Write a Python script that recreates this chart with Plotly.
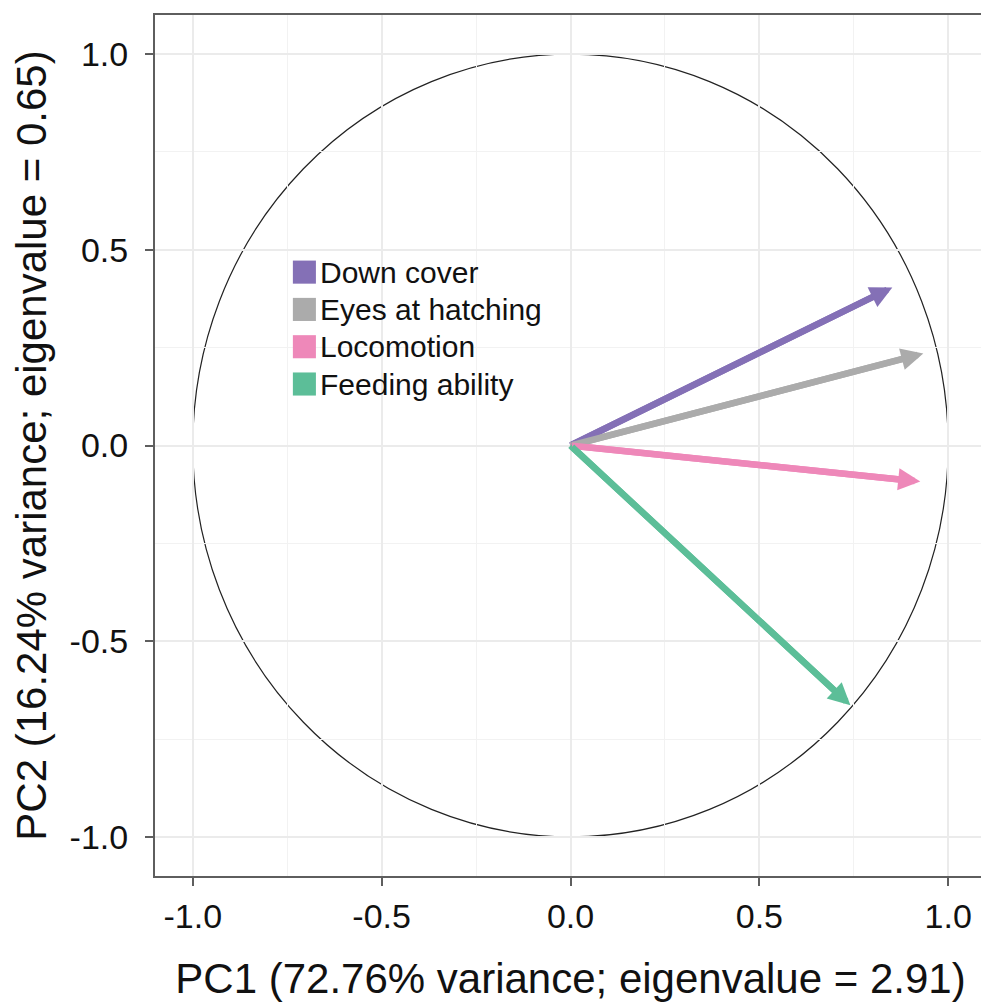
import plotly.graph_objects as go

variables = ["Down cover", "Eyes at hatching", "Locomotion", "Feeding ability"]
pc1 = [0.852, 0.934, 0.926, 0.741]
pc2 = [0.404, 0.235, -0.092, -0.664]
colors = ["#8470B6", "#ABABAB", "#EE88B9", "#5CBE98"]

tick_vals = [-1.0, -0.5, 0.0, 0.5, 1.0]
tick_text = ["-1.0", "-0.5", "0.0", "0.5", "1.0"]

x_title = "PC1 (72.76% variance; eigenvalue = 2.91)"
y_title = "PC2 (16.24% variance; eigenvalue = 0.65)"

FONT = "Liberation Sans, Arial, sans-serif"

fig = go.Figure()

# correlation circle
fig.add_shape(type="circle", xref="x", yref="y", x0=-1, y0=-1, x1=1, y1=1,
              line=dict(color="#222222", width=1.2), layer="below")

for name, x, y, c in zip(variables, pc1, pc2, colors):
    fig.add_trace(go.Scatter(
        x=[0, x * 0.97], y=[0, y * 0.97], mode="lines", name=name,
        line=dict(color=c, width=6.5),
        showlegend=False, hoverinfo="skip",
    ))
    fig.add_annotation(x=x, y=y, ax=0, ay=0, xref="x", yref="y", axref="x", ayref="y",
                       text="", showarrow=True, arrowhead=2, arrowsize=0.68,
                       arrowwidth=6.5, arrowcolor=c, standoff=0)

# manual legend (square keys)
leg_x0 = -0.735   # data units
leg_y0 = 0.443
row_h = 0.0953
key_w = 0.061
key_h = 0.059
for i, (name, c) in enumerate(zip(variables, colors)):
    yc = leg_y0 - i * row_h
    fig.add_shape(type="rect", xref="x", yref="y",
                  x0=leg_x0, x1=leg_x0 + key_w, y0=yc - key_h / 2, y1=yc + key_h / 2,
                  fillcolor=c, line=dict(width=0))
    fig.add_annotation(x=leg_x0 + key_w + 0.006, y=yc, xref="x", yref="y",
                       text=name, showarrow=False, xanchor="left", yanchor="middle",
                       font=dict(family=FONT, size=30, color="#111111"))

axis_common = dict(
    range=[-1.1, 1.1], tickvals=tick_vals, ticktext=tick_text,
    showgrid=True, gridcolor="#EBEBEB", gridwidth=1.5,
    minor=dict(dtick=0.25, showgrid=True, gridcolor="#F2F2F2", gridwidth=1),
    zeroline=False, showline=True, linecolor="#5E5E5E", linewidth=2, mirror=True,
    ticks="outside", ticklen=8, tickwidth=2, tickcolor="#5E5E5E",
    tickfont=dict(family=FONT, size=34, color="#111111"),
    title_font=dict(family=FONT, size=42, color="#111111"),
    automargin=False,
)

fig.update_xaxes(**axis_common, title_text=x_title, title_standoff=30, ticklabelstandoff=1)
fig.update_yaxes(**axis_common, title_text=y_title, title_standoff=14, ticklabelstandoff=10)

fig.update_layout(
    width=981, height=995,
    margin=dict(l=147, r=3, t=7, b=127),
    plot_bgcolor="white", paper_bgcolor="white",
    showlegend=False,
)

fig.write_html("out.html")
